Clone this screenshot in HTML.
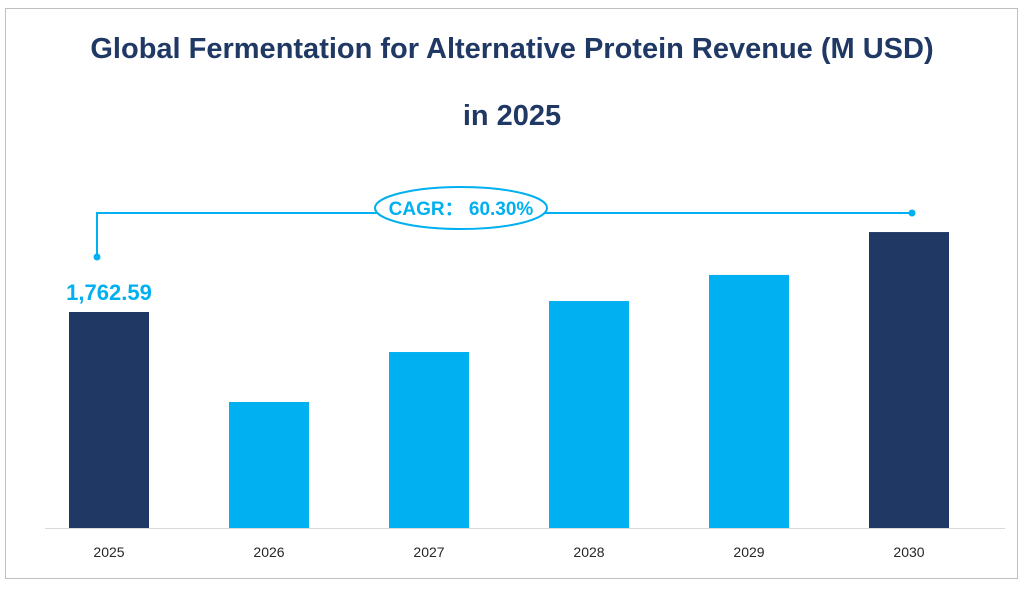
<!DOCTYPE html>
<html><head><meta charset="utf-8"><style>
body{margin:0;background:#fff;}
svg{display:block;font-family:"Liberation Sans","Noto Sans CJK SC",sans-serif;}
</style></head><body>
<svg id="chart" width="1024" height="597" viewBox="0 0 1024 597">
<rect x="5.5" y="8.5" width="1012" height="570" fill="#fff" stroke="#bfbfbf"/>
<text x="512" y="58" text-anchor="middle" font-size="29" font-weight="bold" fill="#1f3864">Global Fermentation for Alternative Protein Revenue (M USD)</text>
<text x="512" y="125" text-anchor="middle" font-size="29" font-weight="bold" fill="#1f3864">in 2025</text>
<line x1="45" y1="528.5" x2="1005" y2="528.5" stroke="#d9d9d9"/>
<g id="bars"></g>
<g>
<polyline points="97,256 97,213 912,213" fill="none" stroke="#00b0f0" stroke-width="2"/>
<circle cx="97" cy="257" r="3.5" fill="#00b0f0"/>
<circle cx="912" cy="213" r="3.5" fill="#00b0f0"/>
<ellipse cx="461" cy="208" rx="86" ry="21" fill="#fff" stroke="#00b0f0" stroke-width="2"/>
<text x="461" y="215" text-anchor="middle" font-size="19" font-weight="bold" fill="#00b0f0">CAGR：  60.30%</text>
</g>
</svg>
<script>
const categories=["2025","2026","2027","2028","2029","2030"];
const values=[1762.59,1028,1436,1852,2065,2415];
const highlight=[true,false,false,false,false,true];
const baseY=528, pxPerUnit=216/1762.59;
function xPos(i){return 69+i*160;}
function yPos(v){return baseY-v*pxPerUnit;}
const g=document.getElementById('bars');
const NS="http://www.w3.org/2000/svg";
categories.forEach((c,i)=>{
  const r=document.createElementNS(NS,'rect');
  r.setAttribute('x',xPos(i));r.setAttribute('y',yPos(values[i]));
  r.setAttribute('width',80);r.setAttribute('height',baseY-yPos(values[i]));
  r.setAttribute('fill',highlight[i]?'#1f3864':'#00b0f0');
  
  
  g.appendChild(r);
  const t=document.createElementNS(NS,'text');
  t.setAttribute('x',xPos(i)+40);t.setAttribute('y',557);
  t.setAttribute('text-anchor','middle');t.setAttribute('font-size','14');t.setAttribute('fill','#262626');
  t.textContent=c;
  
  
  g.appendChild(t);
});
const vl=document.createElementNS(NS,'text');
vl.setAttribute('x',xPos(0)+40);vl.setAttribute('y',yPos(values[0])-12);
vl.setAttribute('text-anchor','middle');vl.setAttribute('font-size','22');vl.setAttribute('font-weight','bold');vl.setAttribute('fill','#00b0f0');
vl.textContent=values[0].toLocaleString('en-US',{minimumFractionDigits:2});


g.appendChild(vl);
</script>
</body></html>
